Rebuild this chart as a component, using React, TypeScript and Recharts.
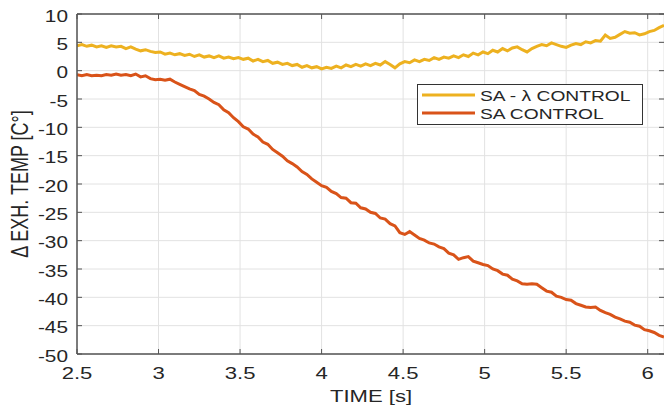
import React from 'react';
import { LineChart, Line, XAxis, YAxis, CartesianGrid, Legend, ReferenceLine } from 'recharts';

// sample times: 2.50 s to 6.10 s every 0.03 s
const T_START = 2.5;
const T_STEP = 0.03;

// SA - lambda control (yellow), one value per sample
const lambdaControl = [
  4.4, 4.6, 4.3, 4.5, 4.2, 4.4, 4.1, 4.4, 4.2, 4.3,
  3.9, 4.2, 3.8, 3.5, 3.7, 3.4, 3.2, 3.3, 2.9, 3.1,
  2.8, 3.0, 2.7, 2.9, 2.5, 2.8, 2.4, 2.6, 2.3, 2.6,
  2.2, 2.4, 2.1, 2.3, 2.0, 2.2, 1.7, 2.0, 1.6, 1.8,
  1.3, 1.5, 1.1, 1.3, 0.9, 1.1, 0.6, 0.9, 0.5, 0.7,
  0.3, 0.6, 0.4, 0.8, 0.5, 1.0, 0.7, 1.1, 0.8, 1.2,
  0.9, 1.3, 1.0, 1.6, 1.1, 0.5, 1.2, 1.6, 1.4, 1.9,
  1.6, 2.0, 1.8, 2.3, 2.0, 2.4, 2.2, 2.6, 2.3, 2.8,
  2.5, 3.1, 2.8, 3.3, 3.0, 3.6, 3.3, 3.9, 3.5, 4.0,
  4.2, 3.7, 3.3, 3.9, 4.3, 4.6, 4.4, 4.9, 4.6, 4.3,
  4.1, 4.5, 4.8, 4.6, 5.1, 4.9, 5.3, 5.2, 6.3, 5.7,
  5.9, 6.4, 6.9, 6.6, 6.7, 6.3, 6.5, 6.9, 7.1, 7.6,
  8.0,
];

// SA control (orange), one value per sample
const saControl = [
  -0.7, -0.9, -0.7, -0.9, -0.8, -0.9, -0.7, -0.8, -0.6, -0.8,
  -0.7, -0.9, -0.6, -1.1, -0.9, -1.4, -1.6, -1.5, -1.7, -1.5,
  -2.0, -2.4, -2.8, -3.2, -3.5, -4.2, -4.5, -5.0, -5.6, -6.0,
  -6.9, -7.4, -8.3, -9.0, -9.9, -10.3, -11.2, -11.7, -12.6, -13.0,
  -13.9, -14.5, -15.1, -15.9, -16.4, -17.0, -17.8, -18.3, -19.1, -19.7,
  -20.3, -20.6, -21.3, -21.7, -22.4, -22.5, -23.3, -23.4, -24.2, -24.4,
  -25.0, -25.2, -26.0, -26.2, -27.0, -27.4, -28.6, -28.9, -28.4, -29.0,
  -29.6, -29.9, -30.4, -30.6, -31.1, -31.4, -32.2, -32.5, -33.3, -33.0,
  -32.8, -33.6, -33.9, -34.2, -34.4, -35.0, -35.3, -35.9, -36.1, -36.8,
  -37.1, -37.6, -37.7, -37.6, -37.7, -38.3, -38.9, -39.1, -39.8, -40.0,
  -40.4, -40.5, -41.1, -41.4, -41.7, -41.8, -41.7, -42.3, -42.7, -43.0,
  -43.5, -43.8, -44.2, -44.4, -44.9, -45.1, -45.7, -45.9, -46.2, -46.7,
  -47.0,
];

const xTicks = [2.5, 3, 3.5, 4, 4.5, 5, 5.5, 6];
const yTicks = [-50, -45, -40, -35, -30, -25, -20, -15, -10, -5, 0, 5, 10];

const data = lambdaControl.map((v, i) => ({
  t: +(T_START + T_STEP * i).toFixed(2),
  lambda: v,
  sa: saControl[i],
}));

const YELLOW = '#EDB120';
const ORANGE = '#D95319';
const AXIS = '#555';
const TEXT = '#262626';
const FONT = '"Liberation Sans", Arial, sans-serif';
const STRETCH = 1.3;

const PLOT_TOP = 14;
const PLOT_RIGHT = 664;

const XTick = (props: any) => {
  const { x, y, payload } = props;
  return (
    <g>
      <line x1={x} x2={x} y1={y} y2={y - 5} stroke={AXIS} strokeWidth={1} />
      <line x1={x} x2={x} y1={PLOT_TOP} y2={PLOT_TOP + 5} stroke={AXIS} strokeWidth={1} />
      <text
        transform={`translate(${x},${y + 24.5}) scale(${STRETCH},1)`}
        textAnchor="middle"
        fontSize={17}
        fontFamily={FONT}
        fill={TEXT}
      >
        {payload.value}
      </text>
    </g>
  );
};

const YTick = (props: any) => {
  const { x, y, payload } = props;
  return (
    <g>
      <line x1={x} x2={x + 5} y1={y} y2={y} stroke={AXIS} strokeWidth={1} />
      <line x1={PLOT_RIGHT} x2={PLOT_RIGHT - 5} y1={y} y2={y} stroke={AXIS} strokeWidth={1} />
      <text
        transform={`translate(${x - 9},${y + 7.5}) scale(${STRETCH},1)`}
        textAnchor="end"
        fontSize={16}
        fontFamily={FONT}
        fill={TEXT}
      >
        {payload.value}
      </text>
    </g>
  );
};

const LegendBox = () => (
  <svg width={226} height={41} style={{ display: 'block' }}>
    <rect x={0.5} y={0.5} width={225} height={40} fill="#fff" stroke="#333" strokeWidth={1} />
    <line x1={5} x2={58} y1={11} y2={11} stroke={YELLOW} strokeWidth={3} />
    <line x1={5} x2={58} y1={29} y2={29} stroke={ORANGE} strokeWidth={3} />
    <text transform="translate(63,16.5) scale(1.28,1)" fontSize={15} fontFamily={FONT} fill={TEXT}>
      SA - λ CONTROL
    </text>
    <text transform="translate(63,34.5) scale(1.28,1)" fontSize={15} fontFamily={FONT} fill={TEXT}>
      SA CONTROL
    </text>
  </svg>
);

export default function App() {
  return (
    <div style={{ position: 'absolute', left: 0, top: 0, width: 664, height: 407, background: '#fff' }}>
      <LineChart width={664} height={407} data={data} margin={{ top: PLOT_TOP, right: 0, bottom: 0, left: 0 }}>
        <CartesianGrid stroke="#e2e2e2" strokeWidth={1} />
        <XAxis
          dataKey="t"
          type="number"
          domain={[2.5, 6.1]}
          ticks={xTicks}
          interval={0}
          allowDataOverflow
          height={53}
          tickSize={0}
          tickMargin={0}
          tickLine={false}
          axisLine={{ stroke: AXIS, strokeWidth: 1.5 }}
          tick={XTick}
          label={{
            content: () => (
              <text
                transform={`translate(371,402) scale(${STRETCH},1)`}
                textAnchor="middle"
                fontSize={17}
                fontFamily={FONT}
                fill={TEXT}
              >
                TIME [s]
              </text>
            ),
          }}
        />
        <YAxis
          type="number"
          domain={[-50, 10]}
          ticks={yTicks}
          interval={0}
          allowDataOverflow
          width={77}
          tickSize={0}
          tickMargin={0}
          tickLine={false}
          axisLine={{ stroke: AXIS, strokeWidth: 1.5 }}
          tick={YTick}
          label={{
            content: () => (
              <text
                transform={`translate(20,184) scale(${STRETCH},1) rotate(-90)`}
                textAnchor="middle"
                dy="0.35em"
                fontSize={18}
                fontFamily={FONT}
                fill={TEXT}
              >
                Δ EXH. TEMP [C°]
              </text>
            ),
          }}
        />
        <ReferenceLine y={10} stroke={AXIS} strokeWidth={1.5} />
        <Line
          type="linear"
          dataKey="lambda"
          name="SA - λ CONTROL"
          stroke={YELLOW}
          strokeWidth={3}
          dot={false}
          isAnimationActive={false}
        />
        <Line
          type="linear"
          dataKey="sa"
          name="SA CONTROL"
          stroke={ORANGE}
          strokeWidth={3}
          dot={false}
          isAnimationActive={false}
        />
        <Legend
          layout="vertical"
          align="center"
          verticalAlign="middle"
          content={LegendBox}
          wrapperStyle={{ position: 'absolute', left: 417, top: 84, width: 226, height: 41 }}
        />
      </LineChart>
    </div>
  );
}
